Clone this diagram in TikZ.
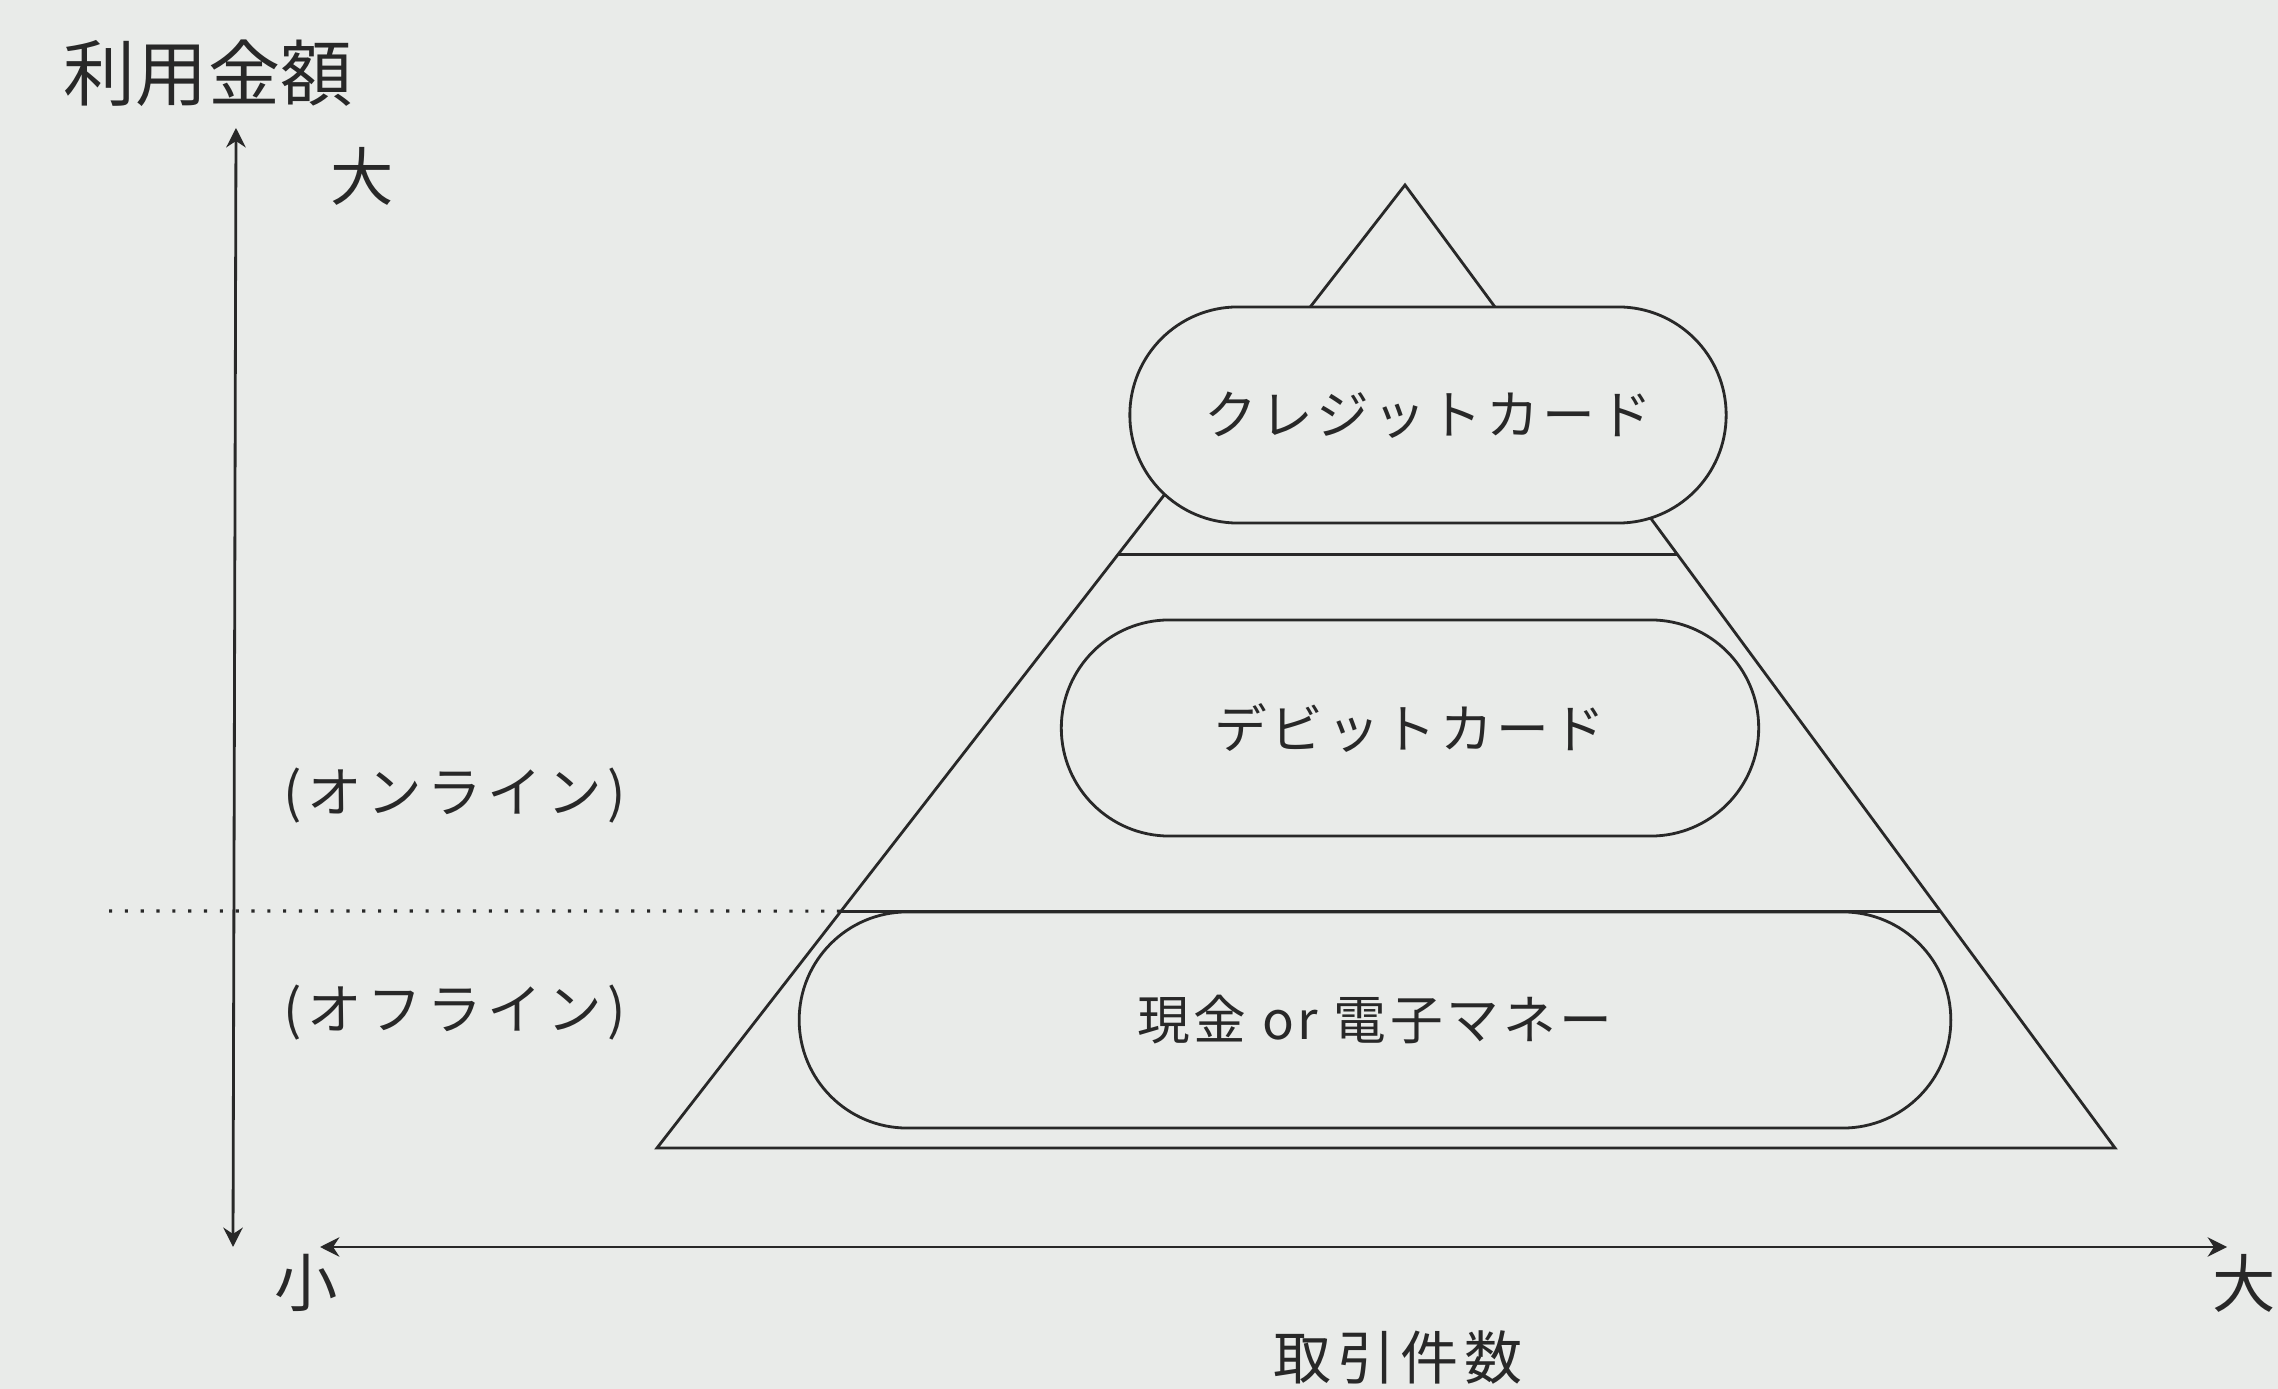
\documentclass[tikz,border=0pt]{standalone}
\usepackage{fontspec}
\setmainfont{Noto Sans CJK JP}
\newfontfamily\jpwide[LetterSpace=7]{Noto Sans CJK JP}
\newfontfamily\jpmid[LetterSpace=10]{Noto Sans CJK JP}
\usetikzlibrary{arrows.meta, calc}

\definecolor{paper}{RGB}{233,235,233}
\definecolor{ink}{RGB}{40,40,40}

\tikzset{
  axisline/.style={draw=ink, line width=0.8pt, {Stealth[length=5.5pt,width=5.5pt]}-{Stealth[length=5.5pt,width=5.5pt]}},
  pyrline/.style={draw=ink, line width=0.8pt},
  stadium/.style={draw=ink, line width=0.8pt, fill=paper, rounded corners=1.08cm,
    minimum height=2.16cm, inner sep=0pt, text=ink, font=\jpwide\fontsize{15}{17}\selectfont},
  axlabel/.style={text=ink, font=\fontsize{18}{20}\selectfont},
  sidelabel/.style={text=ink, font=\jpmid\fontsize{15.5}{17}\selectfont}
}

\begin{document}
\begin{tikzpicture}[x=0.01cm, y=-0.01cm]
  % Paper and frame
  \fill[paper] (0,0) rectangle (2278,1389);
  \useasboundingbox (0,0) rectangle (2278,1389);

  % Axes
  \coordinate (ytop) at (236,128);
  \coordinate (ybot) at (233,1247);
  \coordinate (xlft) at (320,1247);
  \coordinate (xrgt) at (2227,1247);
  \draw[axisline] (ybot) -- (ytop);
  \draw[axisline] (xlft) -- (xrgt);

  % Axis labels
  \node[text=ink, font=\fontsize{20.5}{22}\selectfont] (amount) at (208,73) {利用金額};
  \node[axlabel] (ybig) at (362,176) {大};
  \node[axlabel] (xsmall) at (306,1283) {小};
  \node[axlabel] (xbig) at (2244,1283) {大};
  \node[text=ink, font=\jpmid\fontsize{16.5}{18}\selectfont] (count) at (1398,1358) {取引件数};

  % Pyramid
  \coordinate (apex) at (1405,185);
  \coordinate (bl) at (657,1148);
  \coordinate (br) at (2115,1148);
  \draw[pyrline] (apex) -- (bl) -- (br) -- cycle;
  \foreach \t in {0.384,0.754} {
    \draw[pyrline] ($(apex)!\t!(bl)$) -- ($(apex)!\t!(br)$);
  }

  % Online / offline border
  \coordinate (dotl) at (109,911);
  \coordinate (split) at ($(apex)!0.754!(bl)$);
  \draw[draw=ink, line width=0.9pt, dash pattern=on 0.9pt off 3.6pt] (dotl) -- (split);
  \node[sidelabel] (online) at (455,796) {(オンライン)};
  \node[sidelabel] (offline) at (455,1013) {(オフライン)};

  % Payment means
  \node[stadium, minimum width=5.96cm] (credit) at (1428,415) {クレジットカード};
  \node[stadium, minimum width=6.97cm] (debit) at (1410,728) {デビットカード};
  \node[stadium, minimum width=11.51cm] (cash) at (1375,1020) {現金 or 電子マネー};
\end{tikzpicture}
\end{document}
